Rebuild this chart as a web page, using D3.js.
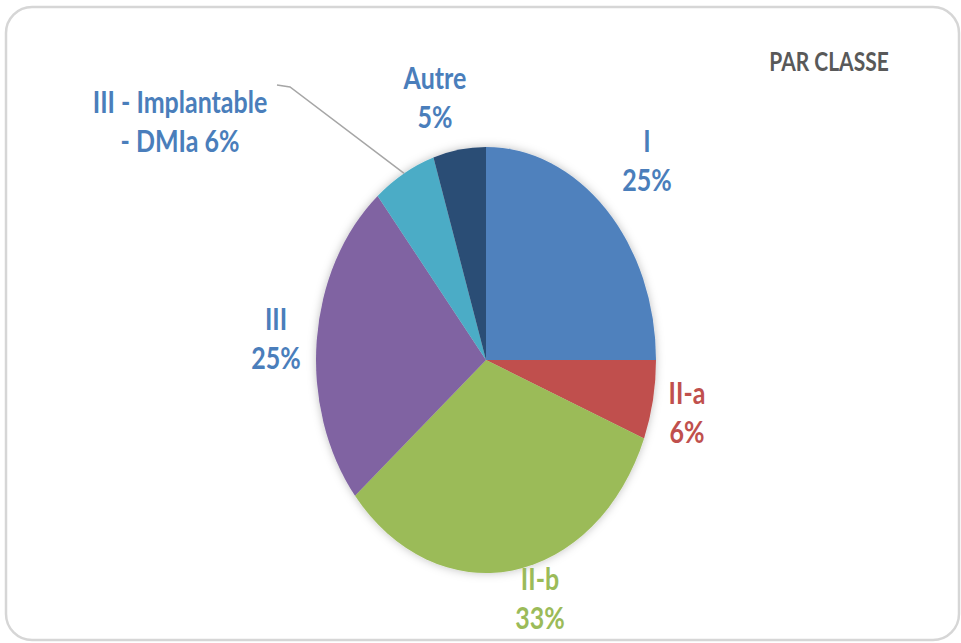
<!DOCTYPE html>
<html>
<head>
<meta charset="utf-8">
<script src="https://cdn.jsdelivr.net/npm/d3@7"></script>
<style>
  body { margin: 0; background: #fff; }
  svg { display: block; }
  text { font-family: Lato, "Open Sans", sans-serif; font-weight: bold; }
</style>
</head>
<body>
<svg id="chart" width="961" height="643"></svg>
<script>
// data (percent)
const categories = ["I", "II-a", "II-b", "III", "III - Implantable - DMIa", "Autre"];
const values = [25, 6, 33, 25, 6, 5];
const sliceColors = ["#4f81bd", "#c0504d", "#9bbb59", "#8064a2", "#4bacc6", "#2c4d75"];
const labelColors = ["#4a7ebb", "#c0504d", "#9bbb59", "#4a7ebb", "#4a7ebb", "#4a7ebb"];
const labelLines = [
  ["I", "25%"],
  ["II-a", "6%"],
  ["II-b", "33%"],
  ["III", "25%"],
  ["III - Implantable", "- DMIa 6%"],
  ["Autre", "5%"]
];
const title = "PAR CLASSE";

// layout (the picture is stretched vertically)
const width = 961, height = 643;
const cx = 486, cy = 360;
const rx = 170, ry = 213;
const sy = ry / rx;
const lineGap = 39;
// baseline of first line for each label, centre x
const labelPos = [[647, 152], [687, 404], [540, 590], [276, 330], [180, 113], [435, 89]];

const svg = d3.select("#chart");

const defs = svg.append("defs");
const shadow = defs.append("filter").attr("id", "shadow")
  .attr("x", "-20%").attr("y", "-20%").attr("width", "140%").attr("height", "140%");
shadow.append("feDropShadow")
  .attr("dx", 0).attr("dy", 0).attr("stdDeviation", 4)
  .attr("flood-color", "#000").attr("flood-opacity", 0.25);

// frame
svg.append("rect")
  .attr("x", 6).attr("y", 7)
  .attr("width", 953).attr("height", 633)
  .attr("rx", 26)
  .attr("fill", "#fff")
  .attr("stroke", "#d6d6d6")
  .attr("stroke-width", 2.5);

const pie = d3.pie().sort(null).value(d => d);
const arcs = pie(values);
const arc = d3.arc().innerRadius(0).outerRadius(rx);

const g = svg.append("g")
  .attr("transform", `translate(${cx},${cy}) scale(1,${sy})`);

g.append("g")
  .attr("filter", "url(#shadow)")
  .selectAll("path")
  .data(arcs)
  .join("path")
    .attr("d", arc)
    .attr("fill", (d, i) => sliceColors[i]);

// leader line for the small implantable slice
const edge = d3.arc().innerRadius(rx).outerRadius(rx);
const ec = edge.centroid(arcs[4]);
const lp = labelPos[4];
const leader = d3.path();
leader.moveTo(lp[0] + 97, lp[1] - 28);
leader.lineTo(lp[0] + 110, lp[1] - 26);
leader.lineTo(cx + ec[0], cy + ec[1] * sy);
svg.append("path")
  .attr("d", leader)
  .attr("fill", "none")
  .attr("stroke", "#a6a6a6")
  .attr("stroke-width", 1.5);

// labels
const fontSize = 25;
const labels = svg.append("g").selectAll("g")
  .data(categories)
  .join("g")
    .attr("transform", (d, i) => `translate(${labelPos[i][0]},${labelPos[i][1]}) scale(1,${sy})`);

labels.each(function(d, i) {
  d3.select(this).selectAll("text")
    .data(labelLines[i])
    .join("text")
      .attr("x", 0)
      .attr("y", (t, j) => j * lineGap / sy)
      .attr("text-anchor", "middle")
      .attr("font-size", fontSize)
      .attr("fill", labelColors[i])
      .text(t => t);
});

svg.append("text")
  .attr("transform", `translate(829,71) scale(1,${sy})`)
  .attr("text-anchor", "middle")
  .attr("font-size", 21)
  .attr("fill", "#595959")
  .text(title);
</script>
</body>
</html>
